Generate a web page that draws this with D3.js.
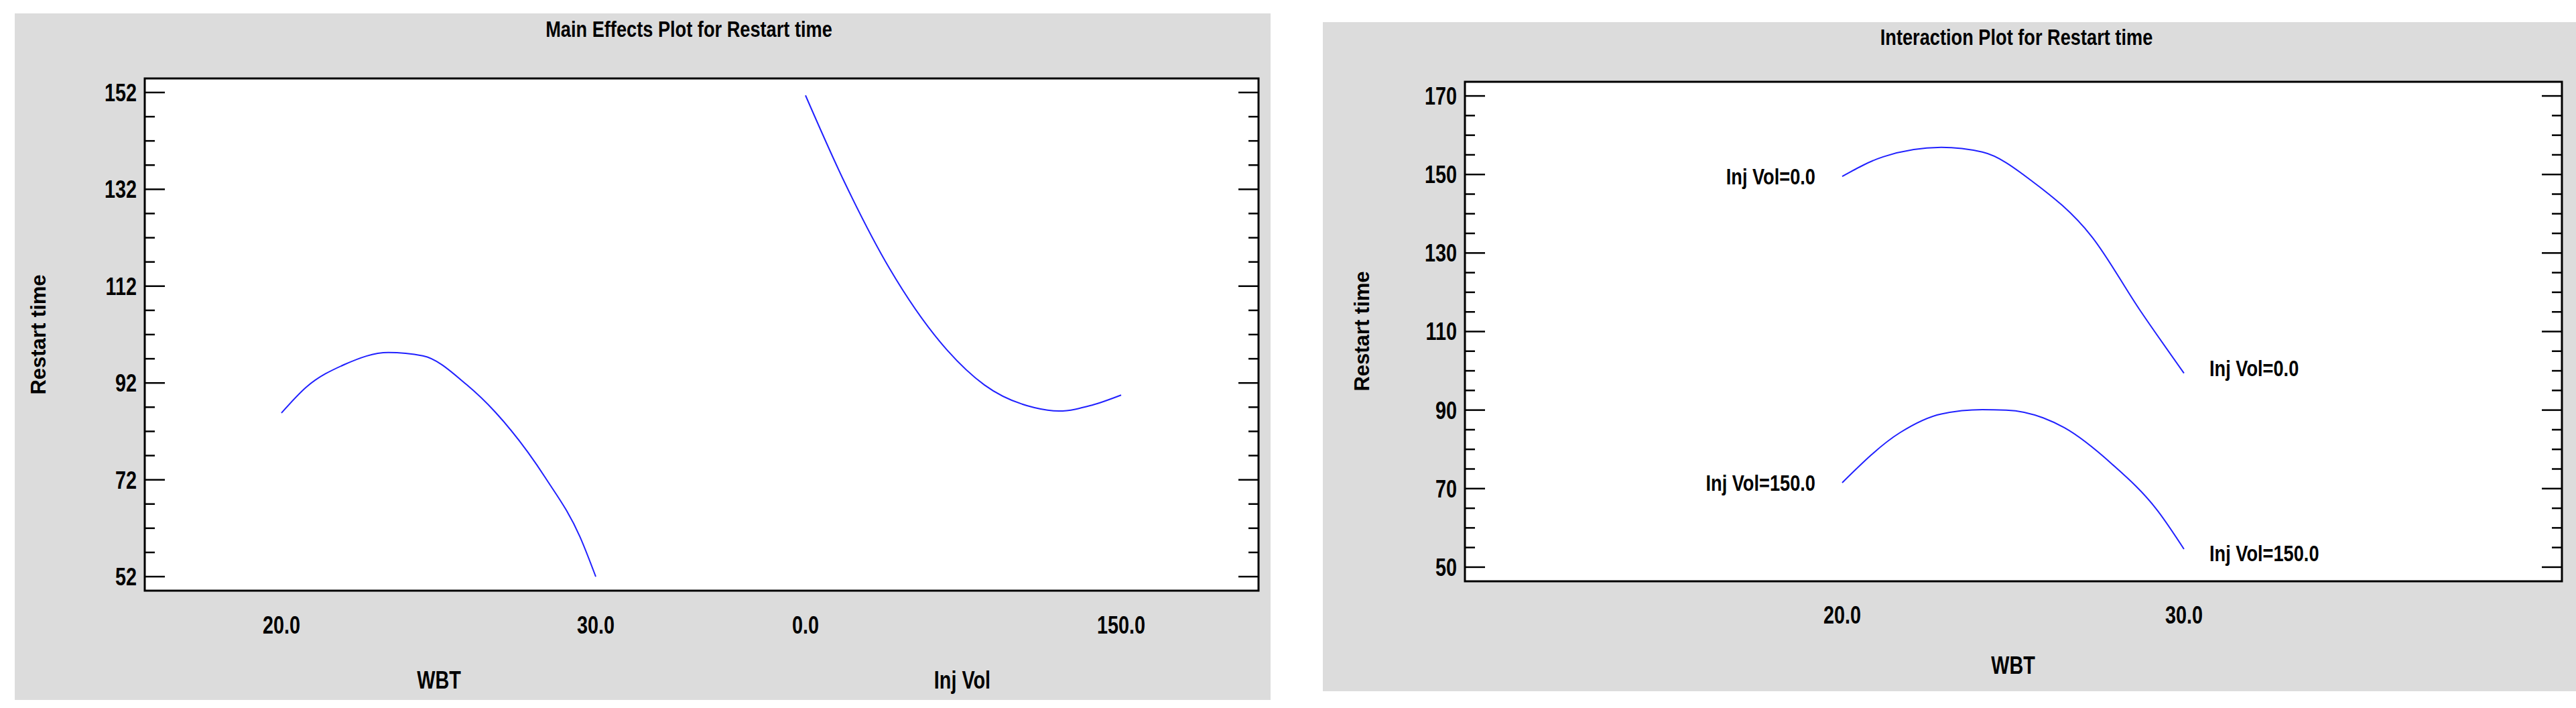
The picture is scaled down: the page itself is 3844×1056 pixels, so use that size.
<!DOCTYPE html>
<html><head><meta charset="utf-8">
<script src="https://cdn.jsdelivr.net/npm/d3@7"></script>
<style>body{margin:0;background:#fff}svg{display:block}text{font-family:"Liberation Sans",Arial,sans-serif;font-weight:bold;fill:#000}</style>
</head><body><svg id="c" width="3844" height="1056"></svg>
<script>
// Main effects data
const wbtX = [20, 20.8, 22, 23.4, 24.5, 25.9, 26.8, 28.4, 29.5, 30];
const wbtY = [85.8, 91.2, 95.8, 98.3, 97.6, 91.6, 86, 72.4, 60.2, 52];
const injX = [0, 18.5, 40, 67.5, 85, 108.8, 120.5, 136, 150];
const injY = [151.4, 133.5, 115.6, 98.7, 91.6, 86.9, 86.2, 87.4, 89.5];
const mainTicks = [52, 72, 92, 112, 132, 152];
// Interaction data
const intX0 = [20, 21.2, 22.9, 24.1, 25.6, 27.3, 28.7, 30];
const intY0 = [149.5, 154.5, 156.9, 155.7, 148, 134.2, 115.6, 99.4];
const intX150 = [20, 21.7, 22.9, 24.1, 24.8, 26.5, 27.9, 29.2, 30];
const intY150 = [71.5, 84.3, 89, 90.1, 90, 85.5, 76.2, 64.7, 54.6];
const intTicks = [50, 70, 90, 110, 130, 150, 170];
const labels0 = "Inj Vol=0.0", labels150 = "Inj Vol=150.0";

const svg = d3.select("#c");
const line = (sx, sy) => d3.line().x(d => sx(d[0])).y(d => sy(d[1])).curve(d3.curveMonotoneX);
const zip = (a, b) => a.map((v, i) => [v, b[i]]);

function frame(g, x0, x1, y0, y1, y, ticks, step) {
  g.append("rect").attr("x", x0).attr("y", y0).attr("width", x1 - x0).attr("height", y1 - y0)
    .attr("fill", "#fff").attr("stroke", "#000").attr("stroke-width", 3);
  const minors = d3.range(ticks[0], ticks[ticks.length - 1] + 0.01, step);
  minors.forEach(v => {
    const major = ticks.includes(Math.round(v));
    const L = major ? 30 : 15;
    g.append("line").attr("x1", x0).attr("x2", x0 + L).attr("y1", y(v)).attr("y2", y(v)).attr("stroke", "#000").attr("stroke-width", 2.5);
    g.append("line").attr("x1", x1).attr("x2", x1 - L).attr("y1", y(v)).attr("y2", y(v)).attr("stroke", "#000").attr("stroke-width", 2.5);
  });
  ticks.forEach(v => g.append("text").attr("class", "n").attr("x", x0 - 12).attr("y", y(v)).attr("dy", "0.36em")
    .attr("text-anchor", "end").attr("font-size", 36).text(v));
}

// Left panel
svg.append("rect").attr("x", 22).attr("y", 20).attr("width", 1874).attr("height", 1024).attr("fill", "#dcdcdc");
const gL = svg.append("g");
const yL = d3.scaleLinear().domain([49.1, 154.9]).range([881, 117]);
frame(gL, 216, 1878, 117, 881, yL, mainTicks, 5);
const xW = d3.scaleLinear().domain([20, 30]).range([420, 889]);
const xI = d3.scaleLinear().domain([0, 150]).range([1202, 1673]);
gL.append("path").attr("d", line(xW, yL)(zip(wbtX, wbtY))).attr("fill", "none").attr("stroke", "#2020ff").attr("stroke-width", 2);
gL.append("path").attr("d", line(xI, yL)(zip(injX, injY))).attr("fill", "none").attr("stroke", "#2020ff").attr("stroke-width", 2);
[[xW(20), "20.0"], [xW(30), "30.0"], [xI(0), "0.0"], [xI(150), "150.0"]].forEach(([x, t]) =>
  gL.append("text").attr("class", "n").attr("x", x).attr("y", 945).attr("text-anchor", "middle").attr("font-size", 36).text(t));
gL.append("text").attr("class", "n").attr("x", 1028).attr("y", 55).attr("text-anchor", "middle").attr("font-size", 34).text("Main Effects Plot for Restart time");
gL.append("text").attr("class", "n").attr("x", 655).attr("y", 1027).attr("text-anchor", "middle").attr("font-size", 36).text("WBT");
gL.append("text").attr("class", "n").attr("x", 1436).attr("y", 1027).attr("text-anchor", "middle").attr("font-size", 36).text("Inj Vol");
gL.append("text").attr("transform", "translate(68,499) rotate(-90)").attr("text-anchor", "middle").attr("font-size", 31).text("Restart time");

// Right panel
svg.append("rect").attr("x", 1974).attr("y", 33).attr("width", 1870).attr("height", 998).attr("fill", "#dcdcdc");
const gR = svg.append("g");
const yR = d3.scaleLinear().domain([46.4, 173.6]).range([867, 122]);
frame(gR, 2186, 3823, 122, 867, yR, intTicks, 5);
const xR = d3.scaleLinear().domain([20, 30]).range([2749, 3259]);
gR.append("path").attr("d", line(xR, yR)(zip(intX0, intY0))).attr("fill", "none").attr("stroke", "#2020ff").attr("stroke-width", 2);
gR.append("path").attr("d", line(xR, yR)(zip(intX150, intY150))).attr("fill", "none").attr("stroke", "#2020ff").attr("stroke-width", 2);
[[20, "20.0"], [30, "30.0"]].forEach(([v, t]) =>
  gR.append("text").attr("class", "n").attr("x", xR(v)).attr("y", 930).attr("text-anchor", "middle").attr("font-size", 36).text(t));
gR.append("text").attr("class", "n").attr("x", 3009).attr("y", 67).attr("text-anchor", "middle").attr("font-size", 34).text("Interaction Plot for Restart time");
gR.append("text").attr("class", "n").attr("x", 3004).attr("y", 1005).attr("text-anchor", "middle").attr("font-size", 36).text("WBT");
gR.append("text").attr("transform", "translate(2043,494) rotate(-90)").attr("text-anchor", "middle").attr("font-size", 31).text("Restart time");
[[xR(20) - 40, yR(intY0[0]), "end", labels0], [xR(20) - 40, yR(intY150[0]), "end", labels150],
 [xR(30) + 38, yR(intY0[intY0.length - 1]) - 8, "start", labels0], [xR(30) + 38, yR(intY150[intY150.length - 1]) + 6, "start", labels150]]
 .forEach(([x, y, a, t]) => gR.append("text").attr("class", "n").attr("x", x).attr("y", y).attr("dy", "0.36em").attr("text-anchor", a).attr("font-size", 34).text(t));

// condense narrow-looking texts horizontally
svg.selectAll("text.n").each(function () {
  const w = this.getComputedTextLength();
  d3.select(this).attr("textLength", w * 0.8).attr("lengthAdjust", "spacingAndGlyphs");
});
</script></body></html>
